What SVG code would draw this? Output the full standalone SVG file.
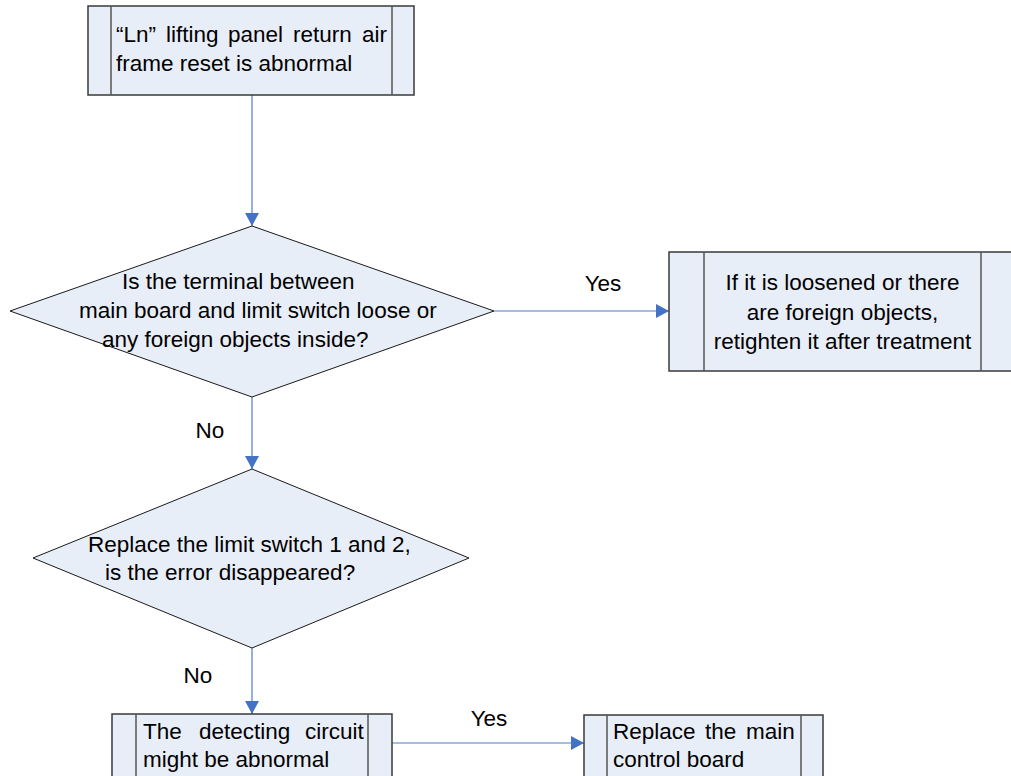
<svg xmlns="http://www.w3.org/2000/svg" width="1011" height="776" viewBox="0 0 1011 776">
<style>
.box{fill:#E8EEF8;stroke:#3a3a3a;stroke-width:1.5}
.inner{stroke:#555;stroke-width:1.5}
.dia{fill:#E8EEF8;stroke:#1a1a1a;stroke-width:1}
.t{font-family:"Liberation Sans",Arial,sans-serif;font-size:22.5px;fill:#000}
.c{stroke:#4A7EC8;stroke-width:1.2;fill:none}
</style>
<defs>
<marker id="ah" markerWidth="14" markerHeight="14" refX="13" refY="7" orient="auto" markerUnits="userSpaceOnUse">
<path d="M0,0 L13,7 L0,14 Z" fill="#4472C4"/>
</marker>
</defs>
<rect width="1011" height="776" fill="#fff"/>
<g id="connectors">
<line class="c" x1="252" y1="95" x2="252" y2="226" marker-end="url(#ah)"/>
<line class="c" x1="494" y1="311" x2="669" y2="311" marker-end="url(#ah)"/>
<line class="c" x1="252" y1="397" x2="252" y2="469" marker-end="url(#ah)"/>
<line class="c" x1="252" y1="648" x2="252" y2="714" marker-end="url(#ah)"/>
<line class="c" x1="392" y1="743" x2="584" y2="743" marker-end="url(#ah)"/>
<text class="t" x="603" y="291" text-anchor="middle">Yes</text>
<text class="t" x="210" y="438" text-anchor="middle">No</text>
<text class="t" x="198" y="683" text-anchor="middle">No</text>
<text class="t" x="489" y="726" text-anchor="middle">Yes</text>
</g>
<g id="start">
<rect class="box" x="88" y="6" width="326" height="89"/>
<line class="inner" x1="111" y1="6" x2="111" y2="95"/>
<line class="inner" x1="392" y1="6" x2="392" y2="95"/>
<text class="t" y="42"><tspan x="116">“Ln”</tspan> <tspan x="166">lifting</tspan> <tspan x="228">panel</tspan> <tspan x="293">return</tspan> <tspan x="362">air</tspan></text>
<text class="t" x="116" y="71">frame reset is abnormal</text>
</g>
<g id="decision1">
<polygon class="dia" points="252,226 494,311 252,397 10,311"/>
<text class="t" x="122" y="289">Is the terminal between</text>
<text class="t" x="79" y="318">main board and limit switch loose or</text>
<text class="t" x="102" y="347">any foreign objects inside?</text>
</g>
<g id="fix">
<rect class="box" x="669" y="252" width="344" height="119"/>
<line class="inner" x1="704" y1="252" x2="704" y2="371"/>
<line class="inner" x1="981" y1="252" x2="981" y2="371"/>
<text class="t" x="842.5" y="290" text-anchor="middle">If it is loosened or there</text>
<text class="t" x="842.5" y="320" text-anchor="middle">are foreign objects,</text>
<text class="t" x="842.5" y="349" text-anchor="middle">retighten it after treatment</text>
</g>
<g id="decision2">
<polygon class="dia" points="252,469 469,558 252,648 33,558"/>
<text class="t" x="88" y="552">Replace the limit switch 1 and 2,</text>
<text class="t" x="105" y="580">is the error disappeared?</text>
</g>
<g id="circuit">
<rect class="box" x="112" y="714" width="280" height="80"/>
<line class="inner" x1="136" y1="714" x2="136" y2="794"/>
<line class="inner" x1="368" y1="714" x2="368" y2="794"/>
<text class="t" y="739"><tspan x="143">The</tspan> <tspan x="199">detecting</tspan> <tspan x="305">circuit</tspan></text>
<text class="t" x="143" y="767">might be abnormal</text>
</g>
<g id="replace">
<rect class="box" x="584" y="715" width="239" height="80"/>
<line class="inner" x1="607" y1="715" x2="607" y2="795"/>
<line class="inner" x1="801" y1="715" x2="801" y2="795"/>
<text class="t" y="739"><tspan x="613">Replace</tspan> <tspan x="705">the</tspan> <tspan x="746">main</tspan></text>
<text class="t" x="613" y="767">control board</text>
</g>
</svg>
